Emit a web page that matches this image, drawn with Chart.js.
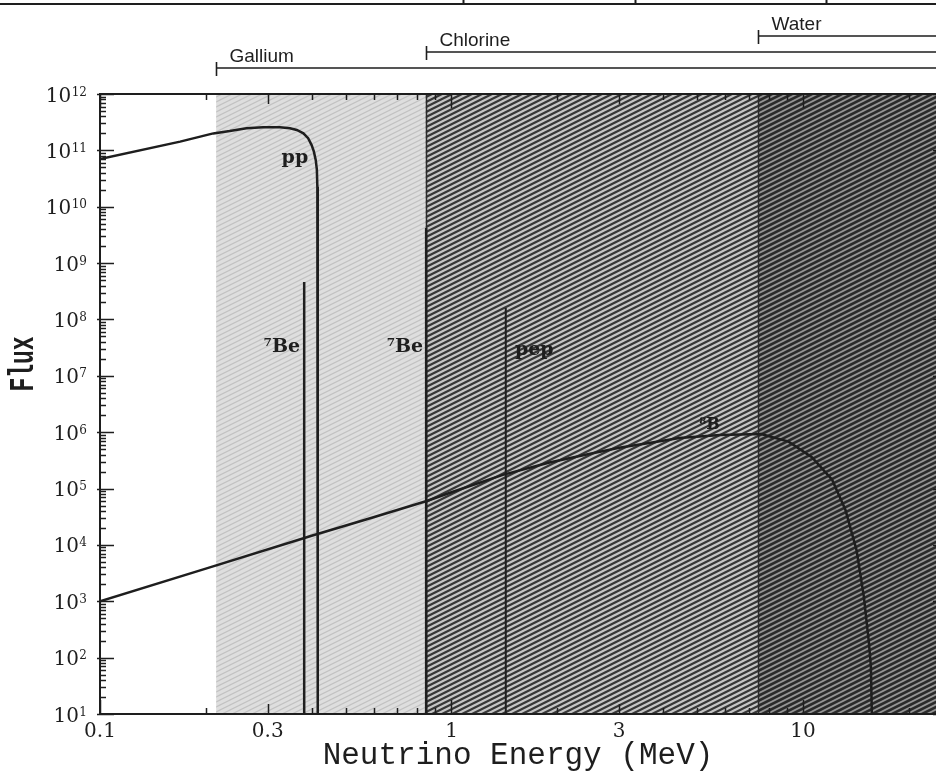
<!DOCTYPE html>
<html>
<head>
<meta charset="utf-8">
<script src="https://cdn.jsdelivr.net/npm/chart.js@4.4.0/dist/chart.umd.min.js"></script>
<style>
  html, body { margin: 0; padding: 0; background: #fff; }
  #wrap { width: 936px; height: 776px; position: relative; }
</style>
</head>
<body>
<div id="wrap"><canvas id="fluxChart"></canvas></div>
<script>
// pp continuum (MeV, flux)
const ppEnergy = [0.1, 0.169, 0.21, 0.234, 0.261, 0.291, 0.325, 0.347, 0.363, 0.379, 0.391, 0.400, 0.406, 0.411, 0.414, 0.4153, 0.4164];
const ppFlux = [7.0e10, 1.43e11, 2.0e11, 2.2e11, 2.46e11, 2.57e11, 2.57e11, 2.46e11, 2.30e11, 2.01e11, 1.64e11, 1.24e11, 9.5e10, 6.7e10, 4.5e10, 2.26e10, 10];

// 8B continuum
const b8Energy = [0.1, 0.2, 0.4, 0.6, 0.85, 1.0, 1.4, 1.9, 2.5, 3.0, 3.8, 4.45, 5.8, 7.6, 9.1, 10.6, 12.1, 13.2, 14.2, 14.9, 15.4, 15.6, 15.7];
const b8Flux = [1.0e3, 3.8e3, 1.45e4, 3.1e4, 6.0e4, 8.6e4, 1.75e5, 2.9e5, 4.2e5, 5.3e5, 6.7e5, 7.9e5, 8.9e5, 9.3e5, 6.8e5, 3.6e5, 1.43e5, 4.2e4, 8.1e3, 1.2e3, 185, 70, 10];

// line sources
const lineNames = ['\u2077Be', '\u2077Be', 'pep'];
const lineEnergy = [0.381, 0.847, 1.427];
const lineFlux = [4.6e8, 4.2e9, 1.6e8];

// detector thresholds
const detectorNames = ['Gallium', 'Chlorine', 'Water'];
const detectorThreshold = [0.214, 0.845, 7.45];

const xTickLabels = ['0.1', '0.3', '1', '3', '10'];
const yTickExponents = [1, 2, 3, 4, 5, 6, 7, 8, 9, 10, 11, 12];

const X_MIN = 0.1, X_MAX = 23.9, Y_MIN = 10, Y_MAX = 1e12;
const INK = '#1e1e1e';

function logTicks(min, max) {
    const out = [];
    for (let e = Math.floor(Math.log10(min)); e <= Math.ceil(Math.log10(max)); e++) {
        for (let m = 1; m <= 9; m++) {
            const v = Number((m * Math.pow(10, e)).toPrecision(6));
            if (v >= min && v <= max) out.push(v);
        }
    }
    return out;
}

function toPoints(xs, ys) {
    return xs.map((x, i) => ({ x: x, y: ys[i] }));
}

function makeHatch(bg, fg, lw, w, h) {
    const c = document.createElement('canvas');
    c.width = w; c.height = h;
    const g = c.getContext('2d');
    g.fillStyle = bg;
    g.fillRect(0, 0, w, h);
    g.strokeStyle = fg;
    g.lineWidth = lw;
    [-h, 0, h].forEach(function(off) {
        g.beginPath();
        g.moveTo(-w, 2 * h + off);
        g.lineTo(2 * w, -h + off);
        g.stroke();
    });
    return c;
}

let patterns = null;

const decorPlugin = {
    id: 'neutrinoDecor',
    beforeDatasetsDraw(chart) {
        const ctx = chart.ctx;
        const a = chart.chartArea;
        const xs = chart.scales.x;
        if (!patterns) {
            patterns = [
                ctx.createPattern(makeHatch('#dedede', '#c2c2c2', 1.2, 10, 5), 'repeat'),
                ctx.createPattern(makeHatch('#c4c4c4', '#363636', 2.2, 10, 5), 'repeat'),
                ctx.createPattern(makeHatch('#949494', '#2a2a2a', 2.6, 10, 5), 'repeat')
            ];
        }
        ctx.save();
        detectorThreshold.forEach(function(t, i) {
            const x0 = xs.getPixelForValue(t);
            const x1 = i < detectorThreshold.length - 1 ? xs.getPixelForValue(detectorThreshold[i + 1]) : a.right;
            ctx.fillStyle = patterns[i];
            ctx.fillRect(x0, a.top, x1 - x0, a.bottom - a.top);
        });
        // region edges
        ctx.strokeStyle = '#2a2a2a';
        ctx.lineWidth = 1.5;
        [1, 2].forEach(function(i) {
            const x = Math.round(xs.getPixelForValue(detectorThreshold[i])) + 0.5;
            ctx.beginPath();
            ctx.moveTo(x, a.top);
            ctx.lineTo(x, a.bottom);
            ctx.stroke();
        });
        ctx.restore();
    },
    afterDatasetsDraw(chart) {
        const ctx = chart.ctx;
        const a = chart.chartArea;
        const xs = chart.scales.x;
        const ys = chart.scales.y;
        ctx.save();

        // frame
        ctx.strokeStyle = INK;
        ctx.lineWidth = 2;
        ctx.beginPath();
        ctx.moveTo(a.right + 2, a.top);
        ctx.lineTo(a.left, a.top);
        ctx.lineTo(a.left, a.bottom);
        ctx.lineTo(a.right + 2, a.bottom);
        ctx.stroke();

        // inward ticks on x
        ctx.lineWidth = 1.5;
        xs.ticks.forEach(function(t) {
            const v = t.value;
            const m = Number((v / Math.pow(10, Math.floor(Math.log10(v) + 1e-9))).toPrecision(3));
            let len = 6;
            if (m === 1) len = 14;
            else if (xTickLabels.indexOf(String(v)) >= 0) len = 10;
            const x = Math.round(xs.getPixelForValue(v)) + 0.5;
            ctx.beginPath();
            ctx.moveTo(x, a.bottom);
            ctx.lineTo(x, a.bottom - len);
            ctx.moveTo(x, a.top);
            ctx.lineTo(x, a.top + len);
            ctx.stroke();
        });

        // inward ticks on y
        ys.ticks.forEach(function(t) {
            const v = t.value;
            const m = Number((v / Math.pow(10, Math.floor(Math.log10(v) + 1e-9))).toPrecision(3));
            const y = Math.round(ys.getPixelForValue(v)) + 0.5;
            ctx.beginPath();
            if (m === 1) {
                ctx.moveTo(a.left - 3, y);
                ctx.lineTo(a.left + 14, y);
                ctx.moveTo(a.right - 3, y);
                ctx.lineTo(a.right, y);
            } else {
                ctx.moveTo(a.left, y);
                ctx.lineTo(a.left + 6, y);
            }
            ctx.stroke();
        });

        // y labels 10^n
        ctx.fillStyle = INK;
        ctx.textBaseline = 'alphabetic';
        yTickExponents.forEach(function(e) {
            const y = ys.getPixelForValue(Math.pow(10, e));
            const sup = String(e);
            ctx.font = '12px "DejaVu Serif"';
            const w2 = ctx.measureText(sup).width;
            ctx.textAlign = 'left';
            ctx.fillText(sup, 87 - w2, y + 1.5);
            ctx.font = '20px "DejaVu Serif"';
            ctx.textAlign = 'right';
            ctx.fillText('10', 87 - w2 - 0.5, y + 7.5);
        });

        // y title
        ctx.save();
        ctx.translate(24, 364);
        ctx.rotate(-Math.PI / 2);
        ctx.scale(1, 1.5);
        ctx.font = 'bold 23px "Liberation Mono"';
        ctx.textAlign = 'center';
        ctx.textBaseline = 'middle';
        ctx.fillText('Flux', 0, 0);
        ctx.restore();

        // source labels
        ctx.font = 'bold 19px "DejaVu Serif"';
        ctx.textAlign = 'center';
        ctx.textBaseline = 'middle';
        const labels = [
            { text: 'pp', x: 0.3585, y: 7.2e10 },
            { text: lineNames[0], x: 0.329, y: 3.2e7 },
            { text: lineNames[1], x: 0.737, y: 3.2e7 },
            { text: lineNames[2], x: 1.72, y: 2.9e7 }
        ];
        labels.forEach(function(l) {
            ctx.fillText(l.text, xs.getPixelForValue(l.x), ys.getPixelForValue(l.y));
        });
        ctx.font = 'bold 16px "DejaVu Serif"';
        ctx.fillText('\u2078B', xs.getPixelForValue(5.42), ys.getPixelForValue(1.34e6));

        // detector ranges above the plot
        const barY = [68, 52, 36];
        ctx.lineWidth = 1.6;
        ctx.font = '19px "Liberation Sans"';
        ctx.textAlign = 'left';
        ctx.textBaseline = 'alphabetic';
        detectorThreshold.forEach(function(t, i) {
            const x = Math.round(xs.getPixelForValue(t)) + 0.5;
            ctx.beginPath();
            ctx.moveTo(x, barY[i] - 6);
            ctx.lineTo(x, barY[i] + 8);
            ctx.moveTo(x, barY[i]);
            ctx.lineTo(chart.width, barY[i]);
            ctx.stroke();
            ctx.fillText(detectorNames[i], x + 13, barY[i] - 6);
        });

        // page rule at the very top
        ctx.lineWidth = 2;
        ctx.beginPath();
        ctx.moveTo(0, 4);
        ctx.lineTo(chart.width, 4);
        [463, 635, 826].forEach(function(x) {
            ctx.moveTo(x + 0.5, 0);
            ctx.lineTo(x + 0.5, 5);
        });
        ctx.stroke();

        ctx.restore();
    }
};

const lineStyle = { showLine: true, borderColor: INK, pointRadius: 0, tension: 0, fill: false };

const datasets = [
    Object.assign({ label: 'pp', data: toPoints(ppEnergy, ppFlux), borderWidth: 2.5 }, lineStyle),
    Object.assign({ label: '8B', data: toPoints(b8Energy, b8Flux), borderWidth: 2.5 }, lineStyle)
];
lineEnergy.forEach(function(e, i) {
    datasets.push(Object.assign({
        label: lineNames[i],
        data: [{ x: e, y: Y_MIN }, { x: e, y: lineFlux[i] }],
        borderWidth: i === 2 ? 2 : 2.5
    }, lineStyle));
});

const ctx = document.getElementById('fluxChart').getContext('2d');
new Chart(ctx, {
    type: 'scatter',
    data: { datasets: datasets },
    plugins: [decorPlugin],
    options: {
        responsive: true,
        maintainAspectRatio: false,
        animation: false,
        devicePixelRatio: 1,
        layout: { padding: { top: 94, left: 0, right: 0, bottom: 0 } },
        plugins: { legend: { display: false }, tooltip: { enabled: false } },
        scales: {
            x: {
                type: 'logarithmic',
                min: X_MIN,
                max: X_MAX,
                grid: { display: false, drawTicks: false },
                border: { display: false },
                afterBuildTicks: function(scale) {
                    scale.ticks = logTicks(X_MIN, X_MAX).map(v => ({ value: v }));
                },
                afterFit: function(scale) { scale.height = 62; },
                ticks: {
                    autoSkip: false,
                    maxRotation: 0,
                    padding: 6,
                    color: INK,
                    font: { family: 'DejaVu Serif', size: 20 },
                    callback: function(value) {
                        const s = String(value);
                        return xTickLabels.indexOf(s) >= 0 ? s : '';
                    }
                },
                title: {
                    display: true,
                    text: 'Neutrino Energy (MeV)',
                    color: INK,
                    font: { family: 'Liberation Mono', size: 31 },
                    padding: { top: 0, bottom: 2 }
                }
            },
            y: {
                type: 'logarithmic',
                min: Y_MIN,
                max: Y_MAX,
                grid: { display: false, drawTicks: false },
                border: { display: false },
                afterBuildTicks: function(scale) {
                    scale.ticks = logTicks(Y_MIN, Y_MAX).map(v => ({ value: v }));
                },
                afterFit: function(scale) { scale.width = 100; },
                ticks: { display: false }
            }
        }
    }
});
</script>
</body>
</html>
